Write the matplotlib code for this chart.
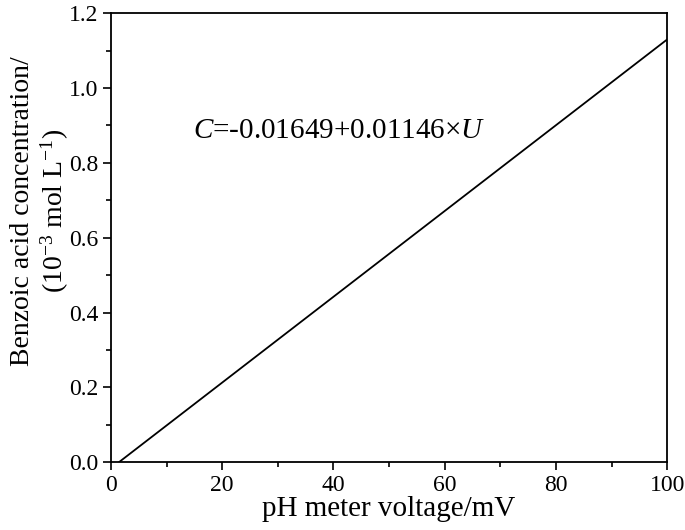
import matplotlib
matplotlib.use("Agg")
import matplotlib.pyplot as plt
from matplotlib.ticker import MultipleLocator

# calibration line C = -0.01649 + 0.01146*U
voltage = [1.44, 100.0]
concentration = [0.0, 1.13]
equation = "$C$=-0.01649+0.01146×$U$"

plt.rcParams["font.family"] = "Liberation Serif"
plt.rcParams["mathtext.fontset"] = "custom"
plt.rcParams["mathtext.rm"] = "Liberation Serif"
plt.rcParams["mathtext.it"] = "Liberation Serif:italic"

fig = plt.figure(figsize=(6.85, 5.3), dpi=100)
ax = fig.add_axes([0.162, 0.128, 0.812, 0.847])

ax.plot(voltage, concentration, color="black", lw=1.3)

ax.set_xlim(0, 100)
ax.set_ylim(0, 1.2)
ax.xaxis.set_major_locator(MultipleLocator(20))
ax.xaxis.set_minor_locator(MultipleLocator(10))
ax.yaxis.set_major_locator(MultipleLocator(0.2))
ax.yaxis.set_minor_locator(MultipleLocator(0.1))
ax.yaxis.set_major_formatter(plt.FuncFormatter(lambda v, p: f"{v:.1f}"))
ax.tick_params(which="both", direction="out", top=False, right=False,
               width=1.2, labelsize=17, pad=3)
ax.tick_params(which="major", length=6)
ax.tick_params(which="minor", length=3.5)
for s in ax.spines.values():
    s.set_linewidth(1.3)

ax.set_xlabel("pH meter voltage/mV", fontsize=21, labelpad=0)
ax.set_ylabel("Benzoic acid concentration/\n(10$^{-3}$ mol L$^{-1}$)",
              fontsize=20, linespacing=1.15)
ax.yaxis.set_label_coords(-0.072, 0.56)

ax.text(14.7, 0.885, equation, fontsize=21, va="center", ha="left")

fig.savefig("out.png", dpi=100)
